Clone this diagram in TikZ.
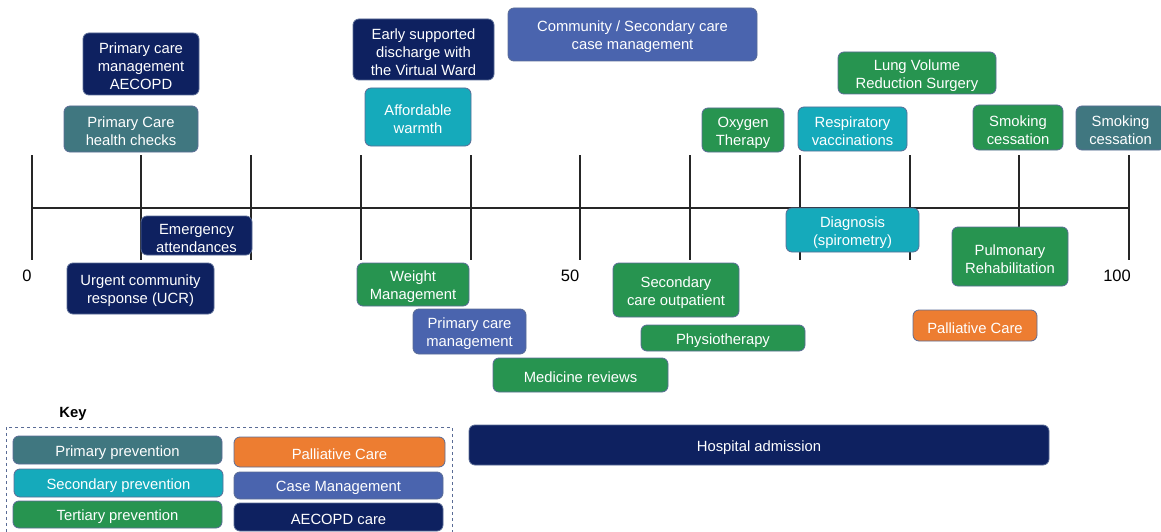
\documentclass[tikz,border=0pt]{standalone}
\usepackage{fontspec}
\setmainfont{Liberation Sans}
\definecolor{primc}{HTML}{407780}
\definecolor{secc}{HTML}{15AABB}
\definecolor{terc}{HTML}{279450}
\definecolor{palc}{HTML}{ED7D31}
\definecolor{casec}{HTML}{4A64AE}
\definecolor{aecc}{HTML}{0E2160}
\definecolor{bordc}{HTML}{5A6C96}
\definecolor{axisc}{HTML}{262626}
\newcommand\bx[7]{\node[#2, minimum width={#5-#3}, minimum height={#6-#4}] (#1) at ({(#3+#5)/2},{(#4+#6)/2}) {};
  \node[boxtext] (#1-t) at ([yshift=-2.5pt]#1.center) {#7};}
\begin{document}
\begin{tikzpicture}[x=1pt,y=-1pt,
  box/.style={draw=bordc, line width=0.8pt, rounded corners=6pt, inner sep=0pt},
  boxtext/.style={text=white, align=center, font=\fontsize{14.8}{18}\selectfont, inner sep=0pt},
  prim/.style={box, fill=primc},
  sec/.style={box, fill=secc},
  ter/.style={box, fill=terc},
  pal/.style={box, fill=palc},
  cas/.style={box, fill=casec},
  aec/.style={box, fill=aecc},
  axisline/.style={draw=axisc, line width=1.4pt},
  num/.style={font=\fontsize{16.5}{18}\selectfont, text=black, inner sep=0pt}]
\useasboundingbox (0,0) rectangle (1161,532);
% timeline
\coordinate (t0) at (32,208);
\coordinate (t100) at (1129,208);
\draw[axisline] (t0) -- (t100);
\foreach \x in {32,141,251,361,471,580,690,800,910,1129}
  \draw[axisline] (\x,155) -- (\x,260);
\draw[axisline] (1019,155) -- (1019,228);
\node[num] (n0) at (27,276) {0};
\node[num] (n50) at (570,276) {50};
\node[num] (n100) at (1117,276) {100};
% boxes
\bx{pcmA}{aec}{83}{33}{199}{95}{Primary care\\management\\AECOPD}
\bx{pchc}{prim}{64}{106}{198}{152}{Primary Care\\health checks}
\bx{emer}{aec}{141}{216}{252}{255}{Emergency\\attendances}
\bx{ucr}{aec}{67}{263}{214}{314}{Urgent community\\response (UCR)}
\bx{esd}{aec}{353}{19}{494}{80}{Early supported\\discharge with\\the Virtual Ward}
\bx{cscm}{cas}{508}{8}{757}{61}{Community / Secondary care\\case management}
\bx{warm}{sec}{365}{88}{471}{146}{Affordable\\warmth}
\bx{oxy}{ter}{702}{108}{784}{152}{Oxygen\\Therapy}
\bx{vacc}{sec}{798}{107}{907}{151}{Respiratory\\vaccinations}
\bx{lvrs}{ter}{838}{52}{996}{94}{Lung Volume\\Reduction Surgery}
\bx{smokeT}{ter}{973}{105}{1063}{150}{Smoking\\cessation}
\bx{smokeP}{prim}{1076}{106}{1165}{150}{Smoking\\cessation}
\bx{diag}{sec}{786}{208}{919}{252}{Diagnosis\\(spirometry)}
\bx{pulm}{ter}{952}{227}{1068}{286}{Pulmonary\\Rehabilitation}
\bx{weight}{ter}{357}{263}{469}{306}{Weight\\Management}
\bx{pcm}{cas}{413}{309}{526}{354}{Primary care\\management}
\bx{med}{ter}{493}{358}{668}{392}{Medicine reviews}
\bx{sco}{ter}{613}{263}{739}{317}{Secondary\\care outpatient}
\bx{phys}{ter}{641}{325}{805}{351}{Physiotherapy}
\bx{pall}{pal}{913}{310}{1037}{341}{Palliative Care}
\bx{hosp}{aec}{469}{425}{1049}{465}{Hospital admission}
% key
\node[font=\fontsize{14.8}{18}\selectfont\bfseries, inner sep=0pt] (keyt) at (73,414) {Key};
\draw[bordc, dashed, line width=0.8pt] (6,427) rectangle (452,545);
\bx{kprim}{prim}{13}{436}{222}{464}{Primary prevention}
\bx{ksec}{sec}{14}{469}{223}{497}{Secondary prevention}
\bx{kter}{ter}{13}{501}{222}{528}{Tertiary prevention}
\bx{kpal}{pal}{234}{437}{445}{467}{Palliative Care}
\bx{kcas}{cas}{234}{472}{443}{499}{Case Management}
\bx{kaec}{aec}{234}{503}{443}{531}{AECOPD care}
\end{tikzpicture}
\end{document}
